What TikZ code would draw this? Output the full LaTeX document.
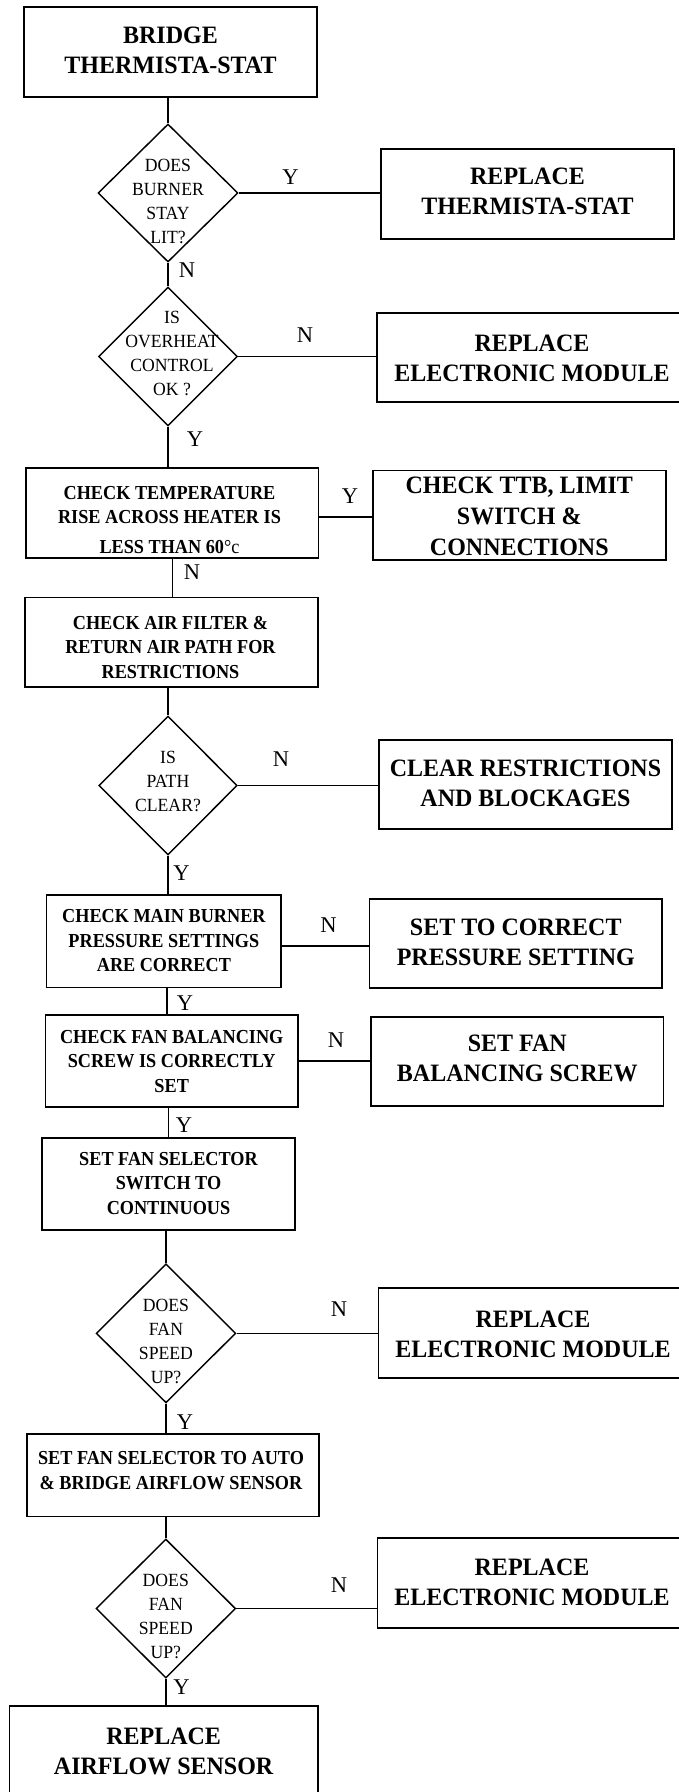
\documentclass[tikz,border=0pt]{standalone}
\usepackage{fontspec}
\setmainfont{Liberation Serif}
\newfontfamily\condserif[FakeStretch=0.92]{Liberation Serif}
\newfontfamily\condbig[FakeStretch=0.96]{Liberation Serif}
\newfontfamily\conddia[FakeStretch=0.95]{Liberation Serif}
\usetikzlibrary{shapes.geometric}
\tikzset{
  box/.style={draw=black, line width=1.45pt, rectangle, inner sep=0pt},
  dia/.style={draw=black, line width=1.45pt, diamond, inner sep=0pt},
  bigtxt/.style={font=\condbig\fontsize{25}{30}\selectfont\bfseries, align=center, inner sep=0pt},
  smalltxt/.style={font=\condserif\fontsize{19.8}{24.5}\selectfont\bfseries, align=center, inner sep=0pt},
  diatxt/.style={font=\conddia\fontsize{18.6}{24}\selectfont, align=center, inner sep=0pt},
  yn/.style={font=\fontsize{22.5}{22.5}\selectfont, inner sep=0pt},
  conn/.style={draw=black, line width=1.45pt},
}
\begin{document}
\begin{tikzpicture}[x=1pt,y=-1pt]
\useasboundingbox (0,0) rectangle (678,1792);

% top box
\node[box, minimum width=293pt, minimum height=90pt] (a) at (170.5,52) {};
\node[bigtxt] (at) at (170.5,50.5) {BRIDGE\\THERMISTA-STAT};

% decision 1
\node[dia, minimum width=140pt, minimum height=138pt] (d1) at (168,193) {};
\node[diatxt] (d1t) at (168,201.5) {DOES\\BURNER\\STAY\\LIT?};
\node[box, minimum width=293pt, minimum height=90pt] (r1) at (527.5,194) {};
\node[bigtxt] (r1t) at (527.5,191.7) {REPLACE\\THERMISTA-STAT};
\draw[conn] (a.south -| d1.north) -- (d1.north);
\draw[conn] (d1.east) -- (d1.east -| r1.west);
\node[yn] (y1) at (290.5,177) {Y};

% decision 2
\node[dia, minimum width=139pt, minimum height=139pt] (d2) at (168,356.5) {};
\node[diatxt] (d2t) at (172,353) {IS\\OVERHEAT\\CONTROL\\OK ?};
\draw[conn] (d1.south) -- (d2.north);
\node[yn] (n1) at (187,270) {N};
\node[box, minimum width=313pt, minimum height=89pt] (r2) at (533.5,357.5) {};
\node[bigtxt] (r2t) at (532,358.5) {REPLACE\\ELECTRONIC MODULE};
\draw[conn] (d2.east) -- (d2.east -| r2.west);
\node[yn] (n2) at (305,335) {N};

% temperature check
\node[box, minimum width=292.6pt, minimum height=90pt] (b3) at (172.3,513) {};
\node[smalltxt] (b3t) at (169.5,520) {CHECK TEMPERATURE\\RISE ACROSS HEATER IS\\[5pt]LESS THAN 60{\mdseries °c}};
\draw[conn] (d2.south) -- (d2.south |- b3.north);
\node[yn] (y2) at (195,439) {Y};
\node[box, minimum width=293pt, minimum height=89.3pt] (r3) at (519.3,515.3) {};
\node[bigtxt, font=\condbig\fontsize{25}{31}\selectfont\bfseries] (r3t) at (519.3,516) {CHECK TTB, LIMIT\\SWITCH \&\\CONNECTIONS};
\draw[conn] ([yshift=-4pt]b3.east) -- ([yshift=-4pt]b3.east -| r3.west);
\node[yn] (y3) at (350,496) {Y};

% air filter
\node[box, minimum width=293pt, minimum height=89.3pt] (b4) at (171.5,642.3) {};
\node[smalltxt] (b4t) at (170.5,647.5) {CHECK AIR FILTER \&\\RETURN AIR PATH FOR\\RESTRICTIONS};
\draw[conn] (b3.south) -- (b3.south |- b4.north);
\node[yn] (n3) at (192,572) {N};

% decision 3
\node[dia, minimum width=138.4pt, minimum height=139pt] (d3) at (168,785.5) {};
\node[diatxt] (d3t) at (168,781.5) {IS\\PATH\\CLEAR?};
\draw[conn] (d3.north |- b4.south) -- (d3.north);
\node[box, minimum width=293pt, minimum height=89pt] (r4) at (525.5,784.5) {};
\node[bigtxt] (r4t) at (525.5,783) {CLEAR RESTRICTIONS\\AND BLOCKAGES};
\draw[conn] (d3.east) -- (d3.east -| r4.west);
\node[yn] (n4) at (281,759) {N};

% burner pressure
\node[box, minimum width=234.3pt, minimum height=92.3pt] (b5) at (163.9,941.2) {};
\node[smalltxt] (b5t) at (163.9,941) {CHECK MAIN BURNER\\PRESSURE SETTINGS\\ARE CORRECT};
\draw[conn] (d3.south) -- (d3.south |- b5.north);
\node[yn] (y4) at (181.6,873) {Y};
\node[box, minimum width=292.4pt, minimum height=89pt] (r5) at (515.8,943.5) {};
\node[bigtxt] (r5t) at (515.8,942) {SET TO CORRECT\\PRESSURE SETTING};
\draw[conn] ([yshift=-4.8pt]b5.east) -- ([yshift=-4.8pt]b5.east -| r5.west);
\node[yn] (n5) at (328.6,925) {N};

% fan balancing
\node[box, minimum width=252.6pt, minimum height=92pt] (b6) at (171.7,1061) {};
\node[smalltxt] (b6t) at (171.7,1061.5) {CHECK FAN BALANCING\\SCREW IS CORRECTLY\\SET};
\draw[conn] ([xshift=3pt]b5.south) -- ([xshift=3pt]b5.south |- b6.north);
\node[yn] (y5) at (185,1003) {Y};
\node[box, minimum width=292.6pt, minimum height=89pt] (r6) at (517.3,1061.5) {};
\node[bigtxt] (r6t) at (517.3,1058) {SET FAN\\BALANCING SCREW};
\draw[conn] (b6.east) -- (b6.east -| r6.west);
\node[yn] (n6) at (336,1040) {N};

% selector continuous
\node[box, minimum width=253pt, minimum height=92pt] (b7) at (168.5,1184) {};
\node[smalltxt] (b7t) at (168.5,1183.5) {SET FAN SELECTOR\\SWITCH TO\\CONTINUOUS};
\draw[conn] ([xshift=-3pt]b6.south) -- ([xshift=-3pt]b6.south |- b7.north);
\node[yn] (y6) at (184,1125) {Y};

% decision 4
\node[dia, minimum width=139.6pt, minimum height=139pt] (d4) at (166,1333.3) {};
\node[diatxt] (d4t) at (166,1341) {DOES\\FAN\\SPEED\\UP?};
\draw[conn] (d4.north |- b7.south) -- (d4.north);
\node[box, minimum width=311.3pt, minimum height=90pt] (r7) at (534.3,1333) {};
\node[bigtxt] (r7t) at (533,1334) {REPLACE\\ELECTRONIC MODULE};
\draw[conn] (d4.east) -- (d4.east -| r7.west);
\node[yn] (n7) at (339,1309) {N};

% selector auto
\node[box, minimum width=292.2pt, minimum height=82.7pt] (b8) at (172.9,1475.3) {};
\node[smalltxt] (b8t) at (171,1470.5) {SET FAN SELECTOR TO AUTO\\\& BRIDGE AIRFLOW SENSOR};
\draw[conn] (d4.south) -- (d4.south |- b8.north);
\node[yn] (y7) at (185,1422) {Y};

% decision 5
\node[dia, minimum width=139.6pt, minimum height=139pt] (d5) at (165.8,1608.5) {};
\node[diatxt] (d5t) at (165.8,1616) {DOES\\FAN\\SPEED\\UP?};
\draw[conn] (d5.north |- b8.south) -- (d5.north);
\node[box, minimum width=312.6pt, minimum height=90pt] (r8) at (533.7,1583) {};
\node[bigtxt] (r8t) at (532,1582.5) {REPLACE\\ELECTRONIC MODULE};
\draw[conn] (d5.east) -- (d5.east -| r8.west);
\node[yn] (n8) at (339,1585) {N};

% final
\node[box, minimum width=308.3pt, minimum height=92pt] (b9) at (163.65,1752) {};
\node[bigtxt] (b9t) at (163.65,1751.5) {REPLACE\\AIRFLOW SENSOR};
\draw[conn] (d5.south) -- (d5.south |- b9.north);
\node[yn] (y8) at (181.6,1687) {Y};
\end{tikzpicture}
\end{document}
